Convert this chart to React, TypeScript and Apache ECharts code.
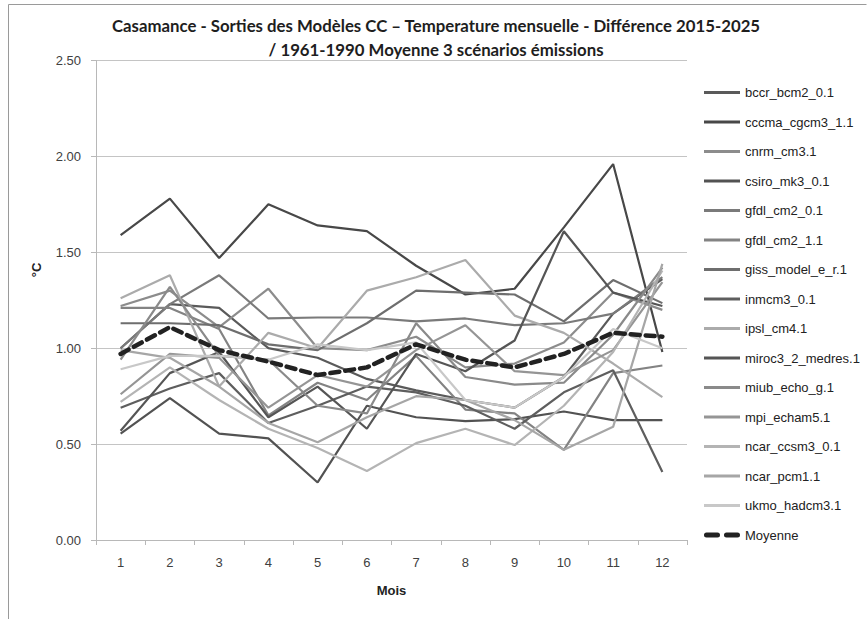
import React, { useEffect, useRef } from "react";
import * as echarts from "echarts";

const months = ["1", "2", "3", "4", "5", "6", "7", "8", "9", "10", "11", "12"];

const modelNames = [
  "bccr_bcm2_0.1",
  "cccma_cgcm3_1.1",
  "cnrm_cm3.1",
  "csiro_mk3_0.1",
  "gfdl_cm2_0.1",
  "gfdl_cm2_1.1",
  "giss_model_e_r.1",
  "inmcm3_0.1",
  "ipsl_cm4.1",
  "miroc3_2_medres.1",
  "miub_echo_g.1",
  "mpi_echam5.1",
  "ncar_ccsm3_0.1",
  "ncar_pcm1.1",
  "ukmo_hadcm3.1",
];

const bccr = [1.0, 1.23, 1.21, 1.0, 0.95, 0.84, 0.78, 0.73, 0.69, 0.85, 1.18, 1.36];
const cccma = [1.59, 1.78, 1.47, 1.75, 1.64, 1.61, 1.43, 1.28, 1.31, 1.63, 1.96, 0.98];
const cnrm = [1.22, 1.3, 1.11, 1.31, 1.0, 0.99, 1.06, 0.9, 0.92, 1.03, 1.29, 1.2];
const csiro = [0.555, 0.74, 0.555, 0.53, 0.3, 0.7, 0.64, 0.62, 0.63, 0.67, 0.625, 0.625];
const gfdl0 = [1.0, 1.23, 1.38, 1.155, 1.16, 1.16, 1.14, 1.155, 1.12, 1.13, 1.18, 1.37];
const gfdl1 = [1.21, 1.21, 1.1, 0.65, 0.82, 0.73, 0.96, 0.68, 0.66, 0.47, 0.87, 0.91];
const giss = [1.13, 1.13, 1.12, 1.02, 0.99, 1.13, 1.3, 1.29, 1.28, 1.14, 1.355, 1.235];
const inmcm = [0.69, 0.79, 0.87, 0.61, 0.7, 0.8, 0.77, 0.7, 0.58, 0.77, 0.885, 0.355];
const ipsl = [1.26, 1.38, 0.8, 1.08, 1.0, 1.3, 1.37, 1.46, 1.17, 1.08, 0.92, 0.745];
const miroc = [0.57, 0.87, 0.98, 0.64, 0.8, 0.58, 0.97, 0.88, 1.04, 1.61, 1.29, 1.22];
const miub = [0.94, 1.32, 0.96, 0.94, 0.7, 0.66, 1.13, 0.85, 0.81, 0.82, 1.07, 1.42];
const mpi = [0.76, 0.97, 0.95, 0.69, 0.86, 0.8, 0.99, 1.12, 0.88, 0.86, 0.99, 1.345];
const ncarCcsm = [0.72, 0.9, 0.73, 0.58, 0.48, 0.36, 0.505, 0.58, 0.495, 0.7, 0.98, 1.405];
const ncarPcm = [0.99, 0.95, 0.8, 0.61, 0.51, 0.64, 0.75, 0.73, 0.625, 0.47, 0.59, 1.44];
const ukmo = [0.89, 0.96, 0.96, 0.94, 1.02, 0.99, 1.03, 0.73, 0.69, 0.85, 1.1, 1.0];
const moyenne = [0.97, 1.11, 0.99, 0.93, 0.86, 0.9, 1.02, 0.94, 0.9, 0.97, 1.08, 1.06];

const yTicks = ["0.00", "0.50", "1.00", "1.50", "2.00", "2.50"];

const modelValues = [
  bccr, cccma, cnrm, csiro, gfdl0, gfdl1, giss, inmcm, ipsl, miroc, miub, mpi, ncarCcsm, ncarPcm, ukmo,
];

const modelColors = [
  "#5a5a5a", "#484848", "#8c8c8c", "#525252", "#7a7a7a", "#838383", "#6e6e6e", "#5e5e5e",
  "#ababab", "#555555", "#8a8a8a", "#959595", "#b4b4b4", "#a6a6a6", "#c8c8c8",
];

const FONT = "'Liberation Sans', Arial, sans-serif";
const TITLE_FONT = "Lato, 'Liberation Sans', sans-serif";

const LINE_ICON = "path://M0,0H36V3H0Z";
const DASH_ICON = "path://M2.5,0H13.5A2.5,2.5 0 0 1 13.5,5H2.5A2.5,2.5 0 0 1 2.5,0Z M22.5,0H33.5A2.5,2.5 0 0 1 33.5,5H22.5A2.5,2.5 0 0 1 22.5,0Z";

export default function App() {
  const ref = useRef<HTMLDivElement>(null);

  useEffect(() => {
    if (!ref.current) return;
    const chart = echarts.init(ref.current, null, { renderer: "svg" });

    const series: any[] = modelNames.map((name, i) => ({
      name,
      type: "line",
      data: modelValues[i],
      symbol: "none",
      lineStyle: { color: modelColors[i], width: 2.2 },
      itemStyle: { color: modelColors[i] },
      z: 2,
    }));
    series.push({
      name: "Moyenne",
      type: "line",
      data: moyenne,
      symbol: "none",
      lineStyle: { color: "#222222", width: 4.5, type: [9, 6], cap: "round" },
      itemStyle: { color: "#222222" },
      z: 5,
    });

    const legendData = [
      ...modelNames.map((name) => ({ name, icon: LINE_ICON })),
      { name: "Moyenne", icon: DASH_ICON },
    ];

    chart.setOption({
      animation: false,
      backgroundColor: "#ffffff",
      textStyle: { fontFamily: FONT },
      title: {
        text: "Casamance - Sorties des Modèles CC – Temperature mensuelle - Différence 2015-2025\n/ 1961-1990 Moyenne 3 scénarios émissions",
        left: 431,
        textAlign: "center",
        top: 8,
        textStyle: {
          fontFamily: TITLE_FONT,
          fontSize: 16.8,
          fontWeight: "bold",
          color: "#1e1e1e",
          lineHeight: 24,
        },
      },
      grid: { left: 96, right: 181, top: 60.5, bottom: 79, containLabel: false },
      legend: {
        orient: "vertical",
        left: 699,
        top: 81,
        itemWidth: 36,
        itemHeight: 14,
        itemGap: 16.5,
        symbolKeepAspect: true,
        textStyle: { fontFamily: FONT, fontSize: 13, color: "#222", padding: [0, 0, 0, 0] },
        data: legendData,
      },
      xAxis: {
        type: "category",
        data: months,
        boundaryGap: true,
        name: "Mois",
        nameLocation: "middle",
        nameGap: 44,
        nameTextStyle: { fontFamily: FONT, fontSize: 13, fontWeight: "bold", color: "#222" },
        axisLine: { lineStyle: { color: "#b8b8b8", width: 1 } },
        axisTick: { show: true, alignWithLabel: false, length: 5, lineStyle: { color: "#b8b8b8" } },
        axisLabel: { fontFamily: FONT, fontSize: 13, color: "#404040", margin: 16 },
        splitLine: { show: false },
      },
      yAxis: {
        type: "value",
        min: 0,
        max: 2.5,
        interval: 0.5,
        axisLine: { show: true, lineStyle: { color: "#b8b8b8", width: 1 } },
        axisTick: { show: true, inside: false, length: 5, lineStyle: { color: "#b8b8b8" } },
        axisLabel: {
          fontFamily: FONT,
          fontSize: 13,
          color: "#404040",
          margin: 15,
          formatter: (v: number) => yTicks[Math.round(v / 0.5)] ?? v.toFixed(2),
        },
        splitLine: { show: true, lineStyle: { color: "#c4c4c4", width: 1 } },
      },
      graphic: [
        {
          type: "polyline",
          shape: { points: [[8.5, 640], [8.5, 4.5], [866.5, 4.5]] },
          style: { stroke: "#9a9a9a", lineWidth: 1, fill: "none" },
          silent: true,
        },
        {
          type: "text",
          x: 36,
          y: 270,
          rotation: Math.PI / 2,
          style: {
            text: "°C",
            fontFamily: FONT,
            fontSize: 13,
            fontWeight: "bold",
            fill: "#222",
            align: "center",
            verticalAlign: "middle",
          },
          silent: true,
        },
      ],
      series,
    });

    return () => chart.dispose();
  }, []);

  return (
    <div
      ref={ref}
      style={{ position: "fixed", left: 0, top: 0, width: 868, height: 619, background: "#fff" }}
    />
  );
}
